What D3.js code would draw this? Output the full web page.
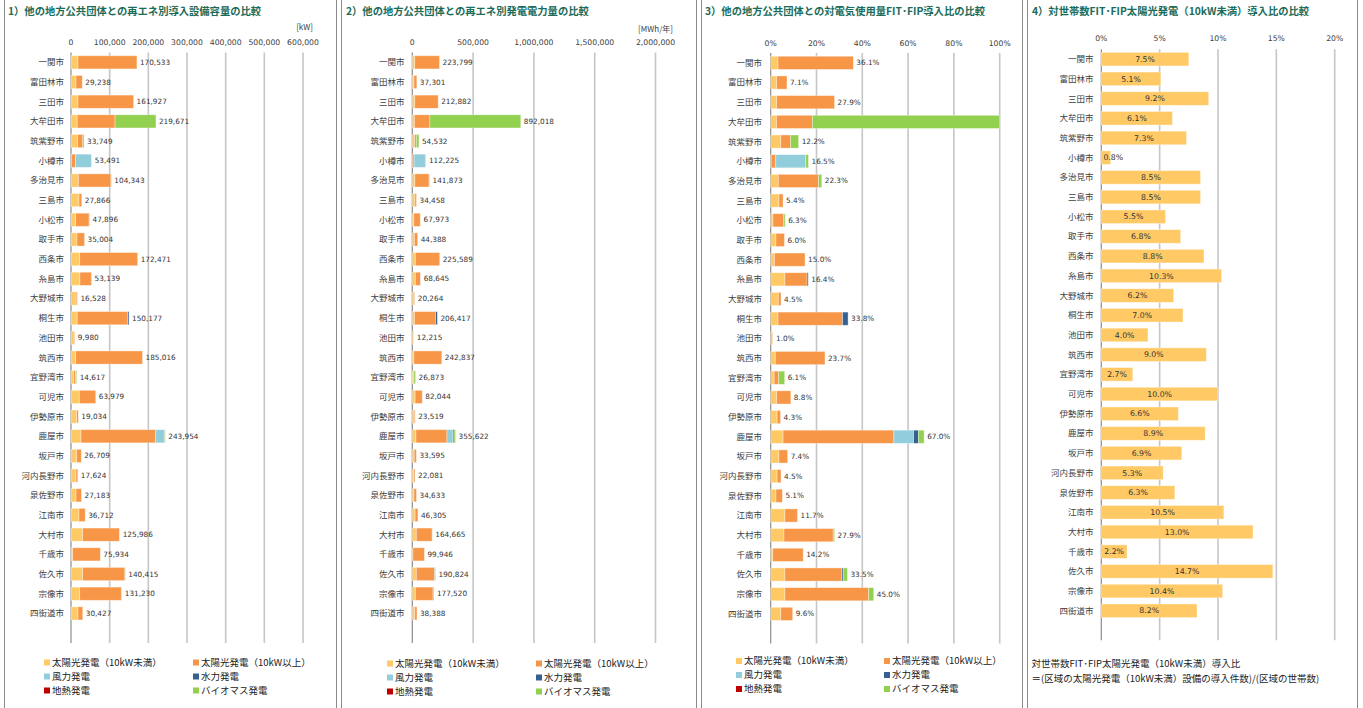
<!DOCTYPE html>
<html><head><meta charset="utf-8">
<script src="https://cdn.jsdelivr.net/npm/d3@7"></script>
<style>
body{margin:0;background:#fff;overflow:hidden;}
text{font-family:"DejaVu Sans","Noto Sans CJK JP",sans-serif;}
.cjk{font-family:"Noto Sans CJK JP","DejaVu Sans",sans-serif;}
</style></head><body>
<svg id="c" width="1363" height="708"></svg>
<script>
// ---------- DATA ----------
const cities = ["一関市","富田林市","三田市","大牟田市","筑紫野市","小樽市","多治見市","三島市","小松市","取手市","西条市","糸島市","大野城市","桐生市","池田市","筑西市","宜野湾市","可児市","伊勢原市","鹿屋市","坂戸市","河内長野市","泉佐野市","江南市","大村市","千歳市","佐久市","宗像市","四街道市"];
const seriesNames = ["太陽光発電（10kW未満）","太陽光発電（10kW以上）","風力発電","水力発電","地熱発電","バイオマス発電"];

// 1) capacity [kW]
const capSolarSmall = [18000,13000,18000,16000,17000,1000,19000,20700,12000,15500,22500,23000,13500,16000,8500,12000,7000,21500,14700,25900,14700,13000,13000,20700,30200,4300,30000,22500,18000];
const capSolarLarge = [152533,16238,143927,98000,13500,10500,84343,7166,34896,19504,149971,29639,3028,131177,1480,173016,5000,42479,4334,193100,12009,4624,14183,16012,95286,71634,109415,107730,12427];
const capWind       = [0,0,0,0,0,41491,0,0,0,0,0,0,0,0,0,0,0,0,0,22300,0,0,0,0,0,0,0,0,0];
const capHydro      = [0,0,0,0,0,0,0,0,0,0,0,500,0,3000,0,0,0,0,0,1000,0,0,0,0,0,0,0,0,0];
const capGeo        = [0,0,0,0,0,0,0,0,0,0,0,0,0,0,0,0,0,0,0,0,0,0,0,0,0,0,0,0,0];
const capBio        = [0,0,0,105671,3249,500,1000,0,1000,0,0,0,0,0,0,0,2617,0,0,1654,0,0,0,0,500,0,1000,1000,0];
const capTotal      = [170533,29238,161927,219671,33749,53491,104343,27866,47896,35004,172471,53139,16528,150177,9980,185016,14617,63979,19034,243954,26709,17624,27183,36712,125986,75934,140415,131230,30427];
const capTicks      = [0,100000,200000,300000,400000,500000,600000];

// 2) generation [MWh/年]
const genSolarSmall = [20000,14000,20000,17000,18000,1000,21000,22000,13000,17000,25000,25000,15000,17000,9500,13000,7000,23000,16000,30000,16000,14000,14000,23000,33000,4500,33000,25000,20000];
const genSolarLarge = [203799,23301,192882,128000,15000,14000,116873,12458,52973,27388,200589,42645,5264,175000,2715,229837,6000,59044,7519,255000,17595,8081,20633,23305,130665,95446,150824,145520,18388];
const genWind       = [0,0,0,0,0,92000,0,0,0,0,0,0,0,0,0,0,0,0,0,50000,0,0,0,0,0,0,0,0,0];
const genHydro      = [0,0,0,0,0,0,0,0,0,0,0,1000,0,14417,0,0,0,0,0,8000,0,0,0,0,0,0,2000,0,0];
const genGeo        = [0,0,0,0,0,0,0,0,0,0,0,0,0,0,0,0,0,0,0,0,0,0,0,0,0,0,0,0,0];
const genBio        = [0,0,0,747018,21532,5225,4000,0,2000,0,0,0,0,0,0,0,13873,0,0,12622,0,0,0,0,1000,0,5000,7000,0];
const genTotal      = [223799,37301,212882,892018,54532,112225,141873,34458,67973,44388,225589,68645,20264,206417,12215,242837,26873,82044,23519,355622,33595,22081,34633,46305,164665,99946,190824,177520,38388];
const genTicks      = [0,500000,1000000,1500000,2000000];

// 3) ratio to electricity use [%]
const ratSolarSmall = [3.2,2.6,2.6,2.5,4.4,0.2,3.3,3.6,1.0,2.3,1.6,6.2,3.3,3.2,0.8,2.0,1.5,2.6,2.8,5.4,3.6,2.8,2.3,6.2,5.8,0.9,6.2,6.2,4.4];
const ratSolarLarge = [32.9,4.5,25.3,15.7,4.3,2.0,17.6,1.8,4.7,3.7,13.4,9.7,1.2,28.2,0.2,21.7,2.0,6.2,1.5,48.4,3.8,1.7,2.8,5.5,21.5,13.3,24.9,36.6,5.2];
const ratWind       = [0,0,0,0,0,13.1,0,0,0,0,0,0,0,0,0,0,0,0,0,8.6,0,0,0,0,0,0,0,0,0];
const ratHydro      = [0,0,0,0,0,0,0,0,0,0,0,0.5,0,2.4,0,0,0,0,0,2.1,0,0,0,0,0,0,0.6,0,0];
const ratGeo        = [0,0,0,0,0,0,0,0,0,0,0,0,0,0,0,0,0,0,0,0,0,0,0,0,0,0,0,0,0];
const ratBio        = [0,0,0,81.8,3.5,1.2,1.4,0,0.6,0,0,0,0,0,0,0,2.6,0,0,2.5,0,0,0,0,0.6,0,1.8,2.2,0];
const ratTotal      = [36.1,7.1,27.9,null,12.2,16.5,22.3,5.4,6.3,6.0,15.0,16.4,4.5,33.8,1.0,23.7,6.1,8.8,4.3,67.0,7.4,4.5,5.1,11.7,27.9,14.2,33.5,45.0,9.6];
const ratTicks      = [0,20,40,60,80,100];

// 4) household ratio [%]
const hhRatio = [7.5,5.1,9.2,6.1,7.3,0.8,8.5,8.5,5.5,6.8,8.8,10.3,6.2,7.0,4.0,9.0,2.7,10.0,6.6,8.9,6.9,5.3,6.3,10.5,13.0,2.2,14.7,10.4,8.2];
const hhTicks = [0,5,10,15,20];

// ---------- STYLE ----------
const colors = ["#FFCA66","#F79646","#92CDDC","#376092","#C00000","#92D050"];
const titleColor = "#1b6c5a";
const svg = d3.select("#c");

// panel borders
[[4.5,336.5],[341.5,696.5],[701.5,1022.5],[1027.5,1357.5]].forEach(([a,b])=>{
  svg.append("line").attr("x1",a).attr("x2",a).attr("y1",0).attr("y2",708).attr("stroke","#8a8a8a");
  svg.append("line").attr("x1",b).attr("x2",b).attr("y1",0).attr("y2",708).attr("stroke","#8a8a8a");
});

function drawPanel(cfg){
  const g = svg.append("g");
  const x = d3.scaleLinear().domain([0,cfg.max]).range([cfg.x0,cfg.x1]);
  const y = d3.scaleBand().domain(cities).range([cfg.top, cfg.top + cities.length*cfg.step]).paddingInner(0.33).paddingOuter(0.165);
  const gridBottom = cfg.top + (cities.length+1)*cfg.step;
  // title
  g.append("text").attr("class","cjk").attr("x",cfg.titleX).attr("y",cfg.titleY).attr("dy","0.35em")
    .attr("font-size",10.3).attr("font-weight","bold").attr("fill",titleColor).text(cfg.title);
  if(cfg.unit) g.append("text").attr("class","cjk").attr("x",cfg.unitX).attr("y",cfg.unitY).attr("dy","0.35em")
    .attr("text-anchor","end").attr("font-size",8).attr("fill","#404040").text(cfg.unit);
  // grid
  cfg.ticks.forEach((t,i)=>{
    g.append("line").attr("x1",x(t)).attr("x2",x(t)).attr("y1",cfg.top).attr("y2",gridBottom)
      .attr("stroke", i===0 ? "#8c8c8c" : "#c6c6c6").attr("stroke-width", i===0 ? 1.2 : 1.6);
    g.append("text").attr("x",x(t)).attr("y",cfg.tickY).attr("dy","0.35em").attr("text-anchor","middle")
      .attr("font-size",7.7).attr("fill","#404040").text(cfg.tickFmt(t));
  });
  // category labels
  cities.forEach(c=>{
    g.append("text").attr("class","cjk").attr("x",cfg.labelRight).attr("y",y(c)+y.bandwidth()/2).attr("dy","0.35em")
      .attr("text-anchor","end").attr("font-size",8.5).attr("fill","#404040").text(c);
  });
  // bars
  cities.forEach((c,i)=>{
    let cum=0;
    cfg.series.forEach((arr,k)=>{
      const v = arr[i];
      if(v>0){
        const a = Math.min(cum,cfg.max), b = Math.min(cum+v,cfg.max);
        g.append("rect").attr("x",x(a)).attr("y",y(c)).attr("width",Math.max(0,x(b)-x(a))).attr("height",y.bandwidth())
          .attr("fill",colors[k]).attr("stroke","#ffffff").attr("stroke-opacity",0.45).attr("stroke-width",0.8);
      }
      cum+=v;
    });
    const tv = cfg.totals[i];
    if(tv!==null && tv!==undefined){
      g.append("text").attr("x",x(Math.min(cum,cfg.max))+3).attr("y",y(c)+y.bandwidth()/2).attr("dy","0.35em")
        .attr("font-size",7.3).attr("fill","#333").text(cfg.labelFmt(tv));
    }
  });
  // legend
  const order=[0,2,4,1,3,5];
  order.forEach((k,j)=>{
    const col = j<3?0:1, row=j%3;
    const lx = col===0?cfg.legX1:cfg.legX2, ly = cfg.legY + row*14;
    g.append("rect").attr("x",lx).attr("y",ly-3).attr("width",6).attr("height",6).attr("fill",colors[k]);
    g.append("text").attr("class","cjk").attr("x",lx+8).attr("y",ly).attr("dy","0.35em")
      .attr("font-size",9.5).attr("fill","#222").text(seriesNames[k]);
  });
}

const fmtComma = d3.format(",");
drawPanel({x0:71,x1:303,max:600000,ticks:capTicks,tickFmt:fmtComma,top:52.5,step:19.68,tickY:42,labelRight:64,
  title:"1）他の地方公共団体との再エネ別導入設備容量の比較",titleX:8,titleY:11,unit:"[kW]",unitX:313,unitY:27,
  series:[capSolarSmall,capSolarLarge,capWind,capHydro,capGeo,capBio],totals:capTotal,labelFmt:fmtComma,
  legX1:44,legX2:193,legY:662.5});
drawPanel({x0:412.3,x1:655.5,max:2000000,ticks:genTicks,tickFmt:fmtComma,top:52.5,step:19.68,tickY:42.5,labelRight:404.5,
  title:"2）他の地方公共団体との再エネ別発電電力量の比較",titleX:346,titleY:11,unit:"[MWh/年]",unitX:673,unitY:29,
  series:[genSolarSmall,genSolarLarge,genWind,genHydro,genGeo,genBio],totals:genTotal,labelFmt:fmtComma,
  legX1:387,legX2:536,legY:663.5});
drawPanel({x0:770.7,x1:999.7,max:100,ticks:ratTicks,tickFmt:d=>d+"%",top:53,step:19.68,tickY:43,labelRight:762,
  title:"3）他の地方公共団体との対電気使用量FIT･FIP導入比の比較",titleX:705,titleY:11,unit:null,
  series:[ratSolarSmall,ratSolarLarge,ratWind,ratHydro,ratGeo,ratBio],totals:ratTotal,labelFmt:d=>d.toFixed(1)+"%",
  legX1:736,legX2:884,legY:661});

// panel 4
(function(){
  const g = svg.append("g");
  const x = d3.scaleLinear().domain([0,20]).range([1101.3,1334.7]);
  const top=49.3, step=19.7;
  const y = d3.scaleBand().domain(cities).range([top, top+cities.length*step]).paddingInner(0.31).paddingOuter(0.155);
  const gridBottom = top+(cities.length+1)*step;
  g.append("text").attr("class","cjk").attr("x",1032).attr("y",11).attr("dy","0.35em").attr("font-size",10.3)
    .attr("font-weight","bold").attr("fill",titleColor).text("4）対世帯数FIT･FIP太陽光発電（10kW未満）導入比の比較");
  hhTicks.forEach((t,i)=>{
    g.append("line").attr("x1",x(t)).attr("x2",x(t)).attr("y1",top).attr("y2",gridBottom)
      .attr("stroke", i===0 ? "#8c8c8c" : "#c6c6c6").attr("stroke-width", i===0 ? 1.2 : 1.6);
    g.append("text").attr("x",x(t)).attr("y",38.5).attr("dy","0.35em").attr("text-anchor","middle")
      .attr("font-size",7.7).attr("fill","#404040").text(t+"%");
  });
  cities.forEach((c,i)=>{
    g.append("text").attr("class","cjk").attr("x",1093.5).attr("y",y(c)+y.bandwidth()/2).attr("dy","0.35em")
      .attr("text-anchor","end").attr("font-size",8.5).attr("fill","#404040").text(c);
    g.append("rect").attr("x",x(0)).attr("y",y(c)).attr("width",x(hhRatio[i])-x(0)).attr("height",y.bandwidth())
      .attr("fill",colors[0]).attr("stroke","#ffffff").attr("stroke-opacity",0.45).attr("stroke-width",0.8);
    const cx = Math.max((x(0)+x(hhRatio[i]))/2, x(0)+12);
    g.append("text").attr("x",cx).attr("y",y(c)+y.bandwidth()/2).attr("dy","0.35em").attr("text-anchor","middle")
      .attr("font-size",7.8).attr("fill","#333").text(hhRatio[i].toFixed(1)+"%");
  });
  g.append("text").attr("class","cjk").attr("x",1031.5).attr("y",664).attr("dy","0.35em").attr("font-size",9.5).attr("fill","#222")
    .text("対世帯数FIT･FIP太陽光発電（10kW未満）導入比");
  g.append("text").attr("class","cjk").attr("x",1031.5).attr("y",678.5).attr("dy","0.35em").attr("font-size",9.5).attr("fill","#222")
    .text("＝(区域の太陽光発電（10kW未満）設備の導入件数)/(区域の世帯数)");
})();
</script>
</body></html>
